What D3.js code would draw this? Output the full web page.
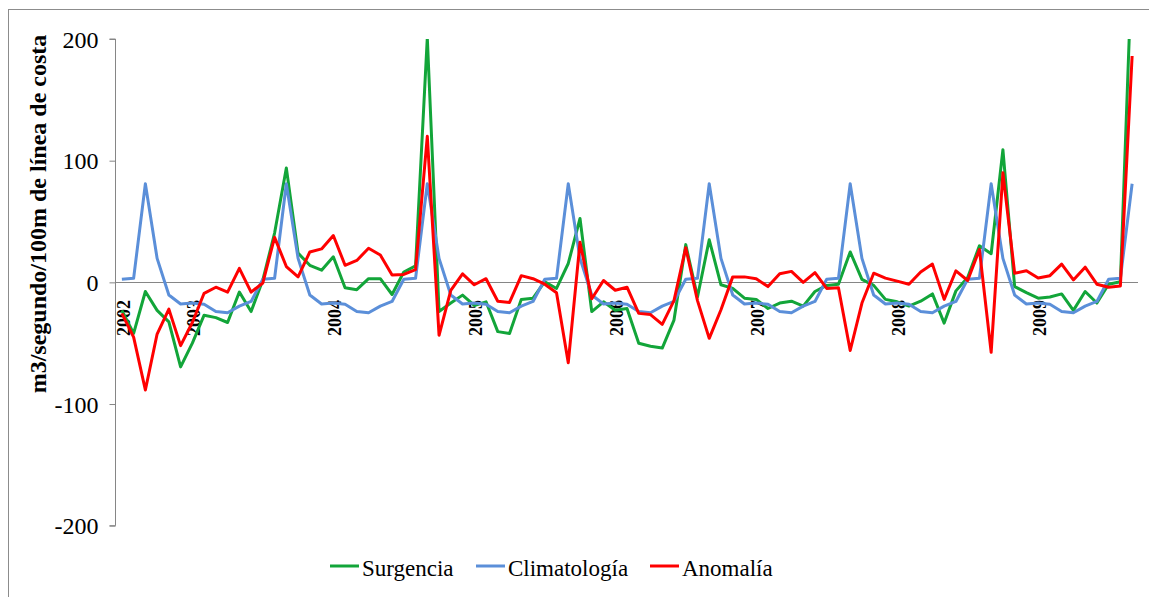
<!DOCTYPE html>
<html>
<head>
<meta charset="utf-8">
<script src="https://cdn.jsdelivr.net/npm/d3@7"></script>
<style>
  html, body { margin: 0; padding: 0; background: #fff; }
  svg { display: block; }
  svg text { font-family: "Liberation Serif", "Times New Roman", serif !important; fill: #000; }
</style>
</head>
<body>
<svg id="chart" width="1149" height="597"></svg>
<script>
// Monthly series, July 2002 – September 2009 (m3/s per 100 m of coastline)
const months = d3.timeMonth.range(new Date(2002, 6, 1), new Date(2009, 9, 1));

const surgencia = [
  -23, -42, -7.5, -23, -32.5, -69.5,
  -50, -27, -29, -33, -8, -24, 2, 40.5, 94, 24, 14, 10,
  21, -4.5, -6, 3, 3, -10, 8.5, 13.5, 201, -24, -17, -10.5,
  -19, -16, -40.5, -42, -14, -13, 0.5, -5, 15.5, 52.5, -24, -16,
  -23, -21.5, -50, -52.5, -54, -31, 31, -12, 35, -2, -5, -13,
  -14, -21.5, -17, -15.5, -19.5, -7.5, -2.5, -1.5, 25, 2.5, -2.5, -14,
  -16, -19.5, -15.5, -9.5, -33.5, -7, 4, 30, 23.5, 109, -3.5, -8.5,
  -13, -12, -9.5, -23, -7.5, -17, -1.5, 0.5, 267
];

const climatologia = [
  2.5, 3.3, 81, 19.7, -10.4, -17.8,
  -17, -18, -24, -25, -19.5, -15.7, 2.5, 3.3, 81, 19.7, -10.4, -17.8,
  -17, -18, -24, -25, -19.5, -15.7, 2.5, 3.3, 81, 19.7, -10.4, -17.8,
  -17, -18, -24, -25, -19.5, -15.7, 2.5, 3.3, 81, 19.7, -10.4, -17.8,
  -17, -18, -24, -25, -19.5, -15.7, 2.5, 3.3, 81, 19.7, -10.4, -17.8,
  -17, -18, -24, -25, -19.5, -15.7, 2.5, 3.3, 81, 19.7, -10.4, -17.8,
  -17, -18, -24, -25, -19.5, -15.7, 2.5, 3.3, 81, 19.7, -10.4, -17.8,
  -17, -18, -24, -25, -19.5, -15.7, 2.5, 3.3, 81
];

const anomalia = [
  -25.5, -45, -88.5, -42.5, -22, -52,
  -33, -9, -4, -8, 11.5, -8, -0.5, 37, 13, 4.5, 25, 27.5,
  38.5, 14, 18, 28, 22.5, 6, 6.5, 10.5, 120, -43.5, -6.5, 7,
  -2, 3, -15.5, -16.5, 5.5, 3, -1.5, -8.5, -66, 33, -13.5, 1.5,
  -6.5, -4, -25.5, -26.5, -34.5, -15, 28.5, -15, -46, -22.5, 4.5, 4.5,
  3, -3.5, 7, 9, 0, 8, -5, -4.5, -56, -17, 7.5, 3.5,
  1, -1.5, 8.5, 15, -14, 9.5, 1.5, 27, -57.5, 90, 7.5, 9.5,
  3.5, 5.5, 15, 2, 12.5, -1.5, -4, -3, 186
];

const yTicks = [200, 100, 0, -100, -200];
const seriesNames = ["Surgencia", "Climatología", "Anomalía"];
const seriesColors = ["#12A539", "#5B8FD9", "#FF0000"];
const tickLabels = ["2002", "2003", "2004", "2005", "2006", "2007", "2008", "2009"];

const FONT = '"Liberation Serif", "Times New Roman", serif';
const svg = d3.select("#chart").attr("font-family", FONT);
const plot = { left: 116, right: 1138, top: 39, bottom: 525.7 };

// outer chart frame
svg.append("rect")
  .attr("x", 8.5).attr("y", 9.5)
  .attr("width", 1160).attr("height", 600)
  .attr("fill", "none").attr("stroke", "#8c8c8c").attr("stroke-width", 1);

const x = d3.scalePoint()
  .domain(d3.range(months.length))
  .range([plot.left, plot.right])
  .padding(0.5);

const y = d3.scaleLinear().domain([-200, 200]).range([plot.bottom, plot.top]);

svg.append("clipPath").attr("id", "plotclip")
  .append("rect")
  .attr("x", plot.left).attr("y", plot.top)
  .attr("width", plot.right - plot.left).attr("height", plot.bottom - plot.top);

// y axis (plain hyphen for negative values)
const yAxis = d3.axisLeft(y).tickValues(yTicks).tickSize(6).tickPadding(11)
  .tickFormat(d => String(d));
const gy = svg.append("g").attr("transform", `translate(${plot.left - 0.5},0)`).call(yAxis);
gy.attr("font-family", FONT);
gy.select(".domain").attr("stroke", "#868686").attr("d", `M-6,${y(200)}H0V${y(-200)}H-6`);
gy.selectAll(".tick line").attr("stroke", "#868686");
gy.selectAll(".tick text")
  .style("font-family", FONT).attr("font-size", 24).attr("fill", "#000")
  .attr("dy", "0.34em");

// zero (category) axis line
svg.append("line")
  .attr("x1", plot.left - 0.5).attr("x2", plot.right)
  .attr("y1", Math.round(y(0)) + 0.5).attr("y2", Math.round(y(0)) + 0.5)
  .attr("stroke", "#868686").attr("stroke-width", 1);

// year labels: first month and every January
const labelIdx = months.map((m, i) => i).filter(i => i === 0 || months[i].getMonth() === 0);
svg.append("g").selectAll("text")
  .data(labelIdx)
  .join("text")
  .attr("transform", d => `translate(${x(d) + 1.5},300) rotate(-90)`)
  .attr("text-anchor", "end")
  .attr("dy", "0.35em")
  .style("font-family", FONT)
  .attr("font-size", 18)
  .attr("font-weight", "bold")
  .text((d, i) => tickLabels[i]);

// series lines
const line = d3.line().x((d, i) => x(i)).y(d => y(d));
const gLines = svg.append("g").attr("clip-path", "url(#plotclip)");
[surgencia, climatologia, anomalia].forEach((s, k) => {
  gLines.append("path")
    .datum(s)
    .attr("d", line)
    .attr("fill", "none")
    .attr("stroke", seriesColors[k])
    .attr("stroke-width", 3)
    .attr("stroke-linejoin", "round");
});

// y axis title
svg.append("text")
  .attr("transform", "translate(38,214) rotate(-90)")
  .attr("text-anchor", "middle")
  .attr("dy", "0.35em")
  .style("font-family", FONT)
  .attr("font-size", 24)
  .attr("font-weight", "bold")
  .text("m3/segundo/100m de línea de costa");

// legend
const legendX = [330, 476, 650];
const lg = svg.append("g");
seriesNames.forEach((name, k) => {
  lg.append("line")
    .attr("x1", legendX[k]).attr("x2", legendX[k] + 29)
    .attr("y1", 566).attr("y2", 566)
    .attr("stroke", seriesColors[k]).attr("stroke-width", 3);
  lg.append("text")
    .attr("x", legendX[k] + 32).attr("y", 576)
    .style("font-family", FONT)
    .attr("font-size", 23)
    .text(name);
});
</script>
</body>
</html>
